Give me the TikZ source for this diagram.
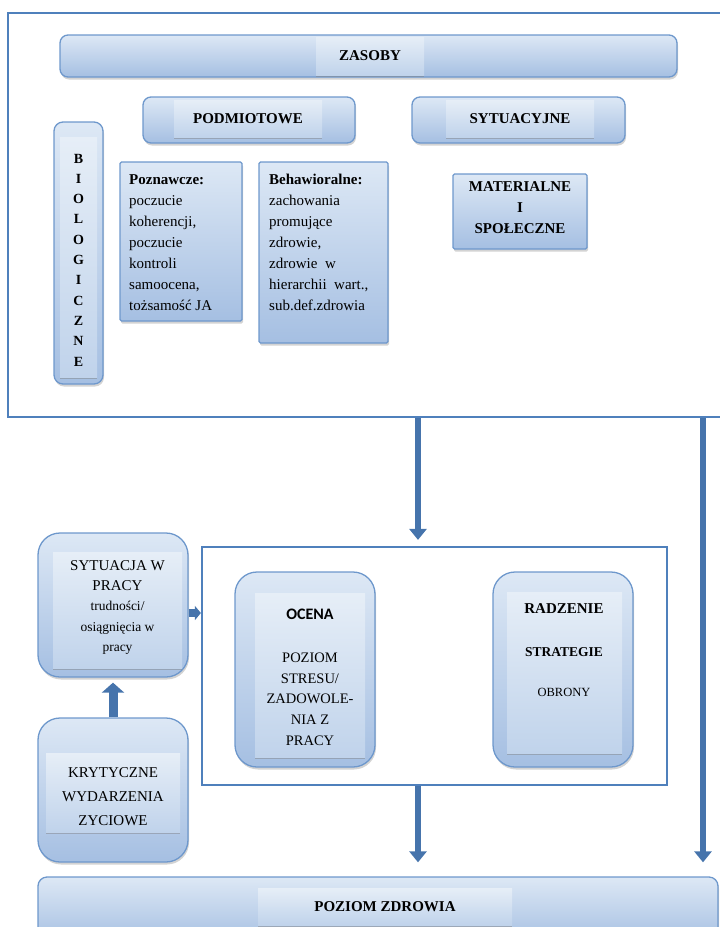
\documentclass[tikz,border=0pt]{standalone}
\usepackage{fontspec}
\setmainfont{Liberation Serif}
\newfontfamily\sansb{Carlito}
\usetikzlibrary{arrows.meta,shadows}
\definecolor{bordc}{HTML}{6E98CC}
\definecolor{topc}{HTML}{DDE8F5}
\definecolor{botc}{HTML}{A5BFE2}
\definecolor{lbltop}{HTML}{E6EEF7}
\definecolor{lblbot}{HTML}{C0D3EB}
\definecolor{framec}{HTML}{4F80BC}
\definecolor{arrc}{HTML}{4674AC}
\tikzset{
  box/.style={draw=bordc, line width=1.3pt, top color=topc, bottom color=botc, inner sep=0pt,
    drop shadow={opacity=0.35, shadow xshift=1pt, shadow yshift=-2.5pt}},
  lbl/.style={top color=lbltop, bottom color=lblbot, inner sep=0pt,
    drop shadow={opacity=0.45, shadow xshift=0pt, shadow yshift=-1.5pt}},
  frm/.style={draw=framec, line width=2.2pt, inner sep=0pt},
  fat/.style={draw=arrc, line width=6.5pt, -{Triangle[width=17pt,length=11pt]}},
  txt/.style={inner sep=0pt, align=center},
  hd/.style={txt, font=\bfseries\fontsize{15}{18}\selectfont},
  body/.style={inner sep=0pt, align=left, font=\fontsize{15}{21}\selectfont},
}
\begin{document}
\begin{tikzpicture}[x=1pt,y=-1pt]
\useasboundingbox (0,0) rectangle (720,927);
% frames
\node[frm, minimum width=718pt, minimum height=404pt] (fr1) at (367,215) {};
\node[frm, minimum width=465pt, minimum height=238pt] (fr2) at (434.5,666) {};
% ZASOBY
\node[box, rounded corners=8pt, minimum width=617pt, minimum height=42pt] (zas) at (368.5,56) {};
\node[lbl, minimum width=108pt, minimum height=38pt] (zasl) at (370,56) {};
\node[hd] (zast) at (370,56) {ZASOBY};
% PODMIOTOWE / SYTUACYJNE
\node[box, rounded corners=8pt, minimum width=212pt, minimum height=46pt] (pod) at (249,120) {};
\node[lbl, minimum width=148pt, minimum height=37pt] (podl) at (248,118.5) {};
\node[hd] (podt) at (248,118.5) {PODMIOTOWE};
\node[box, rounded corners=8pt, minimum width=213pt, minimum height=46pt] (syt) at (518.5,120) {};
\node[lbl, minimum width=148pt, minimum height=37pt] (sytl) at (520,118.5) {};
\node[hd] (sytt) at (520,118.5) {SYTUACYJNE};
% BIOLOGICZNE
\node[box, rounded corners=9pt, minimum width=49pt, minimum height=262pt] (bio) at (78.5,253) {};
\node[lbl, minimum width=37pt, minimum height=240pt] (biol) at (78.5,257) {};
\node[txt, font=\bfseries\fontsize{14}{20.3}\selectfont] (biot) at (78.5,260) {B\\I\\O\\L\\O\\G\\I\\C\\Z\\N\\E};
% Poznawcze
\node[box, rounded corners=1.5pt, minimum width=122pt, minimum height=159pt] (poz) at (181,241.5) {};
\node[body, anchor=north west] (pozt) at (129,174) {\textbf{Poznawcze:}\\poczucie\\koherencji,\\poczucie\\kontroli\\samoocena,\\tożsamość JA};
% Behawioralne
\node[box, rounded corners=1.5pt, minimum width=129pt, minimum height=181pt] (beh) at (323.5,252.5) {};
\node[body, anchor=north west] (beht) at (269,174) {\textbf{Behawioralne:}\\zachowania\\promujące\\zdrowie,\\zdrowie{\ }{\ }w\\hierarchii{\ }{\ }wart.,\\sub.def.zdrowia};
% MATERIALNE
\node[box, rounded corners=1.5pt, minimum width=134pt, minimum height=75pt] (mat) at (520,211.5) {};
\node[hd, font=\bfseries\fontsize{15}{21}\selectfont] (matt) at (520,208) {MATERIALNE\\I\\SPOŁECZNE};
% SYTUACJA W PRACY
\node[box, rounded corners=22pt, minimum width=150pt, minimum height=144pt] (sp) at (113,605) {};
\node[lbl, minimum width=129pt, minimum height=116pt] (spl) at (117.5,610) {};
\node[txt, font=\fontsize{15}{20}\selectfont] (spt) at (117.5,576) {SYTUACJA W\\PRACY};
\node[txt, font=\fontsize{13.5}{20.5}\selectfont] (sps) at (117.5,628) {trudności/\\osiągnięcia w\\pracy};
% KRYTYCZNE
\node[box, rounded corners=22pt, minimum width=150pt, minimum height=144pt] (kr) at (113,790) {};
\node[lbl, minimum width=134pt, minimum height=79pt] (krl) at (113,792.5) {};
\node[txt, font=\fontsize{15}{24}\selectfont] (krt) at (113,797) {KRYTYCZNE\\WYDARZENIA\\ZYCIOWE};
% OCENA
\node[box, rounded corners=22pt, minimum width=140pt, minimum height=195pt] (oc) at (305,669.5) {};
\node[lbl, minimum width=110pt, minimum height=164pt] (ocl) at (310,675) {};
\node[txt, font=\sansb\bfseries\fontsize{16}{18}\selectfont] (oct) at (310,614) {OCENA};
\node[txt, font=\fontsize{14.5}{20.7}\selectfont] (ocb) at (310,699) {POZIOM\\STRESU/\\ZADOWOLE-\\NIA Z\\PRACY};
% RADZENIE
\node[box, rounded corners=22pt, minimum width=140pt, minimum height=195pt] (ra) at (563,669.5) {};
\node[lbl, minimum width=115pt, minimum height=161pt] (ral) at (564.5,672.5) {};
\node[hd] (rat) at (564,609) {RADZENIE};
\node[txt, font=\bfseries\fontsize{13.5}{16}\selectfont] (ras) at (564,652) {STRATEGIE};
\node[txt, font=\fontsize{12.5}{15}\selectfont] (rao) at (564,692) {OBRONY};
% POZIOM ZDROWIA
\node[box, rounded corners=9pt, minimum width=680pt, minimum height=66pt] (pz) at (378,910) {};
\node[lbl, minimum width=254pt, minimum height=37pt] (pzl) at (385,906.5) {};
\node[hd] (pzt) at (385,906.5) {POZIOM ZDROWIA};
% arrows
\coordinate (c418) at (418,0);
\coordinate (c703) at (703,0);
\draw[fat, shorten >=6pt] (c418 |- fr1.south) -- (c418 |- fr2.north);
\draw[fat, shorten >=14pt] (c703 |- fr1.south) -- (c703 |- pz.north);
\draw[fat, shorten >=14pt] (c418 |- fr2.south) -- (c418 |- pz.north);
\draw[draw=arrc, line width=8pt, -{Triangle[width=14pt,length=6pt]}] ([yshift=-8pt]sp.east) -- ([yshift=-8pt]sp.east -| fr2.west);
\draw[draw=arrc, line width=9pt, -{Triangle[width=22pt,length=10pt]}, shorten >=5pt] (kr.north) -- (sp.south);
\end{tikzpicture}
\end{document}
